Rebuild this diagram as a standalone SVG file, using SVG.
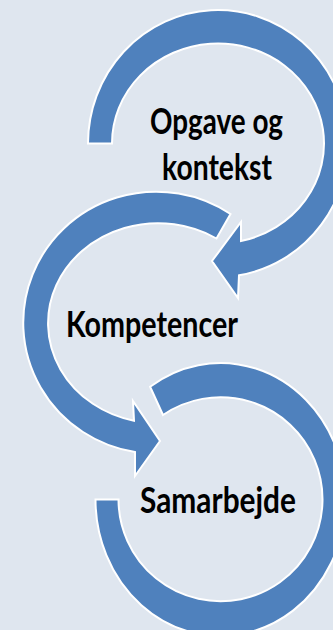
<svg xmlns="http://www.w3.org/2000/svg" width="333" height="630" viewBox="0 0 333 630">
  <style>
    .arc { fill: #4F81BD; stroke: #FFFFFF; stroke-width: 2; stroke-linejoin: miter; }
    .lbl { font-family: Lato, "Open Sans", "Liberation Sans", sans-serif; font-weight: 700; font-size: 37px; fill: #000000; }
  </style>
  <rect x="0" y="0" width="333" height="630" fill="#DFE6EF"/>
  <g id="connectors"/>
  <g id="node-opgave">
    <path class="arc" d="M 88 143.5 A 130 133.5 0 1 1 239 275.3 L 238 298 L 212 261 L 241 222 L 241 241.1 A 106 100 0 1 0 112 143.5 Z"/>
    <text class="lbl" x="150" y="134" textLength="133" lengthAdjust="spacingAndGlyphs">Opgave og</text>
    <text class="lbl" x="162" y="180" textLength="110" lengthAdjust="spacingAndGlyphs">kontekst</text>
  </g>
  <g id="node-kompetencer">
    <path class="arc" d="M 230.5 214 A 133 131 0 1 0 135 452 L 135 476 L 160 441 L 133 401 L 134 420.8 A 110 100 0 1 1 216.5 238.5 Z"/>
    <text class="lbl" x="66" y="337" textLength="172" lengthAdjust="spacingAndGlyphs">Kompetencer</text>
  </g>
  <g id="node-samarbejde">
    <path class="arc" d="M 95.5 499.5 A 125 136.5 0 1 0 150.1 386.7 L 163 415 A 102 102 0 1 1 118.5 499.5 Z"/>
    <text class="lbl" x="140" y="513" textLength="156" lengthAdjust="spacingAndGlyphs">Samarbejde</text>
  </g>
</svg>
